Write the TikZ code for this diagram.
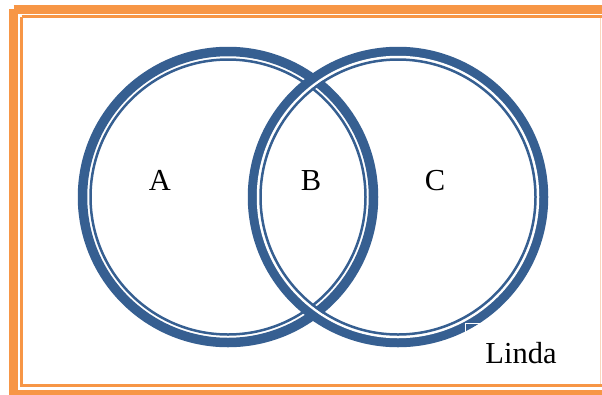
\documentclass[tikz,border=0pt]{standalone}
\usepackage{fontspec}
\setmainfont{Liberation Serif}
\definecolor{frameorange}{RGB}{247,150,70}
\definecolor{framelight}{RGB}{250,215,190}
\definecolor{ringblue}{RGB}{54,95,145}
\tikzset{
  thickband/.style={draw=ringblue, line width=9.5pt},
  thinband/.style={draw=ringblue, line width=2.5pt},
  gapband/.style={draw=white, line width=2.5pt},
  lbl/.style={font=\fontsize{30.5}{30.5}\selectfont, anchor=base, inner sep=0pt},
}
\begin{document}
\begin{tikzpicture}[x=1pt,y=-1pt]
\useasboundingbox (0,0) rectangle (602,394);
\fill[white] (0,0) rectangle (602,394);
% frame
\draw[frameorange, line width=9pt] (13.5,9) -- (620,9);
\draw[frameorange, line width=9pt] (13.5,9) -- (13.5,394.5) -- (620,394.5);
\draw[frameorange, line width=3pt] (21.5,16.5) -- (603,16.5);
\draw[frameorange, line width=3pt] (21.5,16.5) -- (21.5,385.5) -- (603,385.5);
\draw[framelight, line width=1.2pt] (600.6,18) -- (600.6,384);
% circles
\coordinate (cl) at (228,197);
\coordinate (cr) at (398,197);
\draw[thickband] (cl) circle[radius=145.5];
\draw[thinband] (cl) circle[radius=137.5];
\draw[thickband] (cr) circle[radius=145.5];
\draw[gapband] (cr) circle[radius=140];
\draw[thinband] (cr) circle[radius=137.5];
% labels
\node[lbl] (a) at (160,190) {A};
\node[lbl] (b) at (311,190) {B};
\node[lbl] (c) at (435,190) {C};
\draw[white, line width=1pt] (465,345) -- (465,323.5) -- (490,323.5);
\node[lbl] (linda) at (521,363) {Linda};
\end{tikzpicture}
\end{document}
